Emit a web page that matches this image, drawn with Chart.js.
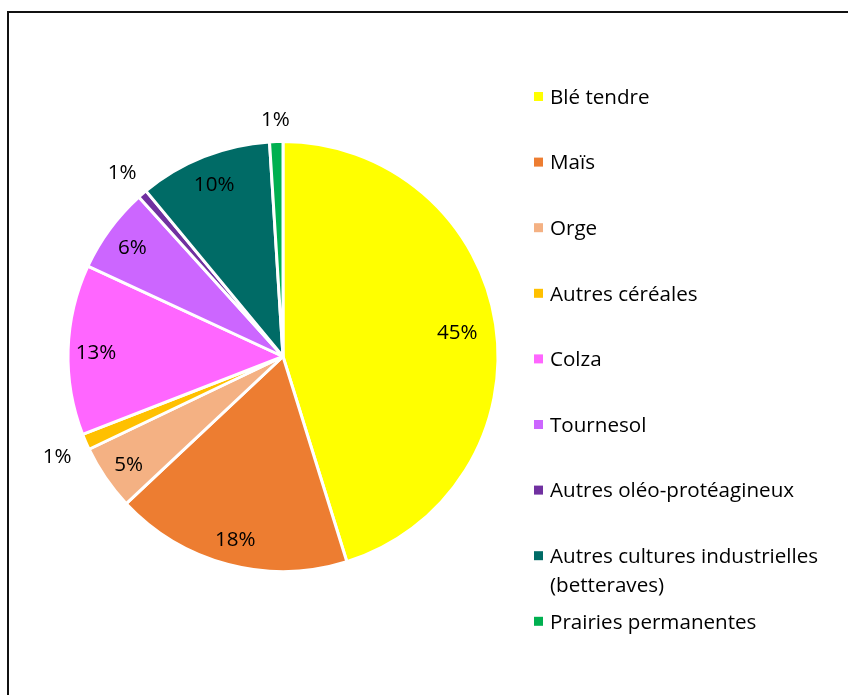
<!DOCTYPE html>
<html>
<head>
<meta charset="utf-8">
<script src="https://cdn.jsdelivr.net/npm/chart.js@4/dist/chart.umd.min.js"></script>
<style>
	html, body { margin: 0; padding: 0; background: #fff; }
	canvas { display: block; }
</style>
</head>
<body>
<canvas id="main-chart" width="848" height="695"></canvas>
<script>
// surfaces by crop (% of total)
const categories = [
	'Blé tendre',
	'Maïs',
	'Orge',
	'Autres céréales',
	'Colza',
	'Tournesol',
	'Autres oléo-protéagineux',
	['Autres cultures industrielles', '(betteraves)'],
	'Prairies permanentes'
];
const shares = [45.2, 17.8, 4.9, 1.2, 12.8, 6.4, 0.7, 10.0, 1.0];
const colours = ['#FFFF00', '#ED7D31', '#F4B183', '#FFC000', '#FF66FF', '#CC66FF', '#7030A0', '#006B66', '#00B050'];

const FONT = '20.6px "Open Sans", sans-serif';

// frame line on the left and top edges
const framePlugin = {
	id: 'frame',
	beforeDraw(chart) {
		const ctx = chart.ctx;
		ctx.save();
		ctx.strokeStyle = '#111';
		ctx.lineWidth = 2;
		ctx.beginPath();
		ctx.moveTo(8, chart.height);
		ctx.lineTo(8, 12);
		ctx.lineTo(chart.width, 12);
		ctx.stroke();
		ctx.restore();
	}
};

// percentage labels: inside the slice, outside for the tiny ones
const sliceLabels = {
	id: 'sliceLabels',
	afterDatasetsDraw(chart) {
		const ctx = chart.ctx;
		const data = chart.data.datasets[0].data;
		const total = data.reduce((a, b) => a + b, 0);
		ctx.save();
		ctx.font = FONT;
		ctx.fillStyle = '#000';
		ctx.textAlign = 'center';
		ctx.textBaseline = 'middle';
		chart.getDatasetMeta(0).data.forEach((arc, i) => {
			const p = arc.getProps(['x', 'y', 'startAngle', 'endAngle', 'outerRadius']);
			const pct = data[i] / total * 100;
			const text = Math.round(pct) + '%';
			const mid = (p.startAngle + p.endAngle) / 2;
			const cx = Math.cos(mid), cy = Math.sin(mid);
			let r;
			if (pct < 2) {
				// keep the label box clear of the rim
				const half = Math.abs(cx) * ctx.measureText(text).width / 2 + Math.abs(cy) * 10;
				r = p.outerRadius + 14 + half;
			} else {
				r = p.outerRadius * (pct > 30 ? 0.82 : 0.87);
			}
			ctx.fillText(text, p.x + cx * r, p.y + cy * r + 3);
		});
		ctx.restore();
	}
};

// legend column on the right
const sideLegend = {
	id: 'sideLegend',
	afterDraw(chart) {
		const ctx = chart.ctx;
		const bg = chart.data.datasets[0].backgroundColor;
		const top = 96, step = 65.6, lineH = 29;
		ctx.save();
		ctx.font = FONT;
		ctx.textBaseline = 'middle';
		ctx.textAlign = 'left';
		chart.data.labels.forEach((lab, i) => {
			const y = top + i * step;
			ctx.fillStyle = bg[i];
			ctx.fillRect(534, y - 4, 9, 9);
			ctx.fillStyle = '#000';
			[].concat(lab).forEach((line, k) => ctx.fillText(line, 550, y + 2 + k * lineH));
		});
		ctx.restore();
	}
};

const ctx = document.getElementById('main-chart');
new Chart(ctx, {
	type: 'pie',
	data: {
		labels: categories,
		datasets: [{
			data: shares,
			backgroundColor: colours,
			borderColor: '#fff',
			borderWidth: 3,
			hoverOffset: 0
		}]
	},
	options: {
		responsive: false,
		animation: false,
		devicePixelRatio: 1,
		layout: {
			padding: { left: 66.5, right: 348.5, top: 140, bottom: 122 }
		},
		plugins: {
			legend: { display: false },
			tooltip: { enabled: false }
		}
	},
	plugins: [framePlugin, sliceLabels, sideLegend]
});
</script>
</body>
</html>
